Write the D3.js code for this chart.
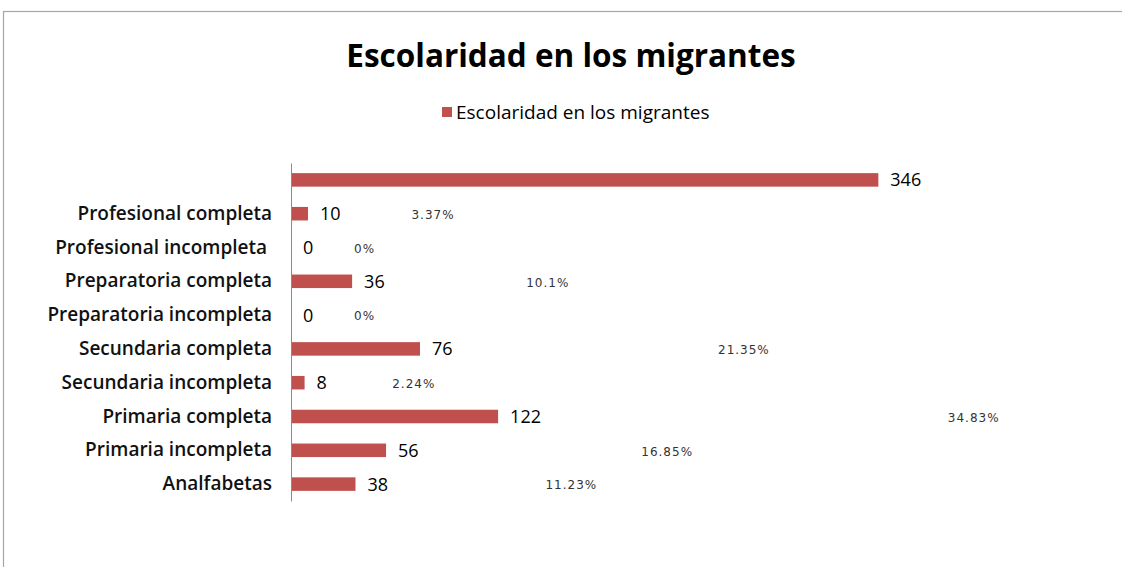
<!DOCTYPE html>
<html>
<head>
<meta charset="utf-8">
<script src="https://cdn.jsdelivr.net/npm/d3@7"></script>
<style>
  body { margin: 0; background: #fff; }
  text { font-family: "Open Sans", Lato, sans-serif; }
</style>
</head>
<body>
<div id="chart"></div>
<script>
// data
var categories = ["", "Profesional completa", "Profesional incompleta ", "Preparatoria completa",
  "Preparatoria incompleta", "Secundaria completa", "Secundaria incompleta",
  "Primaria completa", "Primaria incompleta", "Analfabetas"];
var values = [346, 10, 0, 36, 0, 76, 8, 122, 56, 38];
var percents = [null, 3.37, 0, 10.1, 0, 21.35, 2.24, 34.83, 16.85, 11.23];
var title = "Escolaridad en los migrantes";
var seriesName = "Escolaridad en los migrantes";

var width = 1122, height = 567;
var barColor = "#c0504d";

var data = categories.map(function (c, i) {
  return { name: c, value: values[i], pct: percents[i] };
});

var svg = d3
  .select("#chart")
  .append("svg")
  .attr("width", width)
  .attr("height", height);

svg.append("rect").attr("width", width).attr("height", height).attr("fill", "#fff");

// chart area border (runs off the right and bottom edges)
svg
  .append("rect")
  .attr("x", 3.5)
  .attr("y", 11.5)
  .attr("width", 1140)
  .attr("height", 600)
  .attr("fill", "none")
  .attr("stroke", "#a6a6a6")
  .attr("stroke-width", 1.2);

// title
svg
  .append("text")
  .attr("x", 571)
  .attr("y", 67)
  .attr("text-anchor", "middle")
  .attr("font-size", 31.5)
  .attr("font-weight", "bold")
  .attr("fill", "#000")
  .text(title);

// legend
svg
  .append("rect")
  .attr("x", 442)
  .attr("y", 107)
  .attr("width", 10)
  .attr("height", 10)
  .attr("fill", barColor);
svg
  .append("text")
  .attr("x", 456)
  .attr("y", 119)
  .attr("font-size", 19)
  .attr("fill", "#000")
  .text(seriesName);

// scales
var axisX = 291;
var y = d3
  .scaleBand()
  .domain(categories)
  .range([163, 501])
  .paddingInner(0.6)
  .paddingOuter(0.3);

var x = d3.scaleLinear().domain([0, 400]).range([axisX, 970]);

// secondary (hidden) scale that places the percent labels
var xPct = d3.scaleLinear().domain([0, 40]).range([axisX + 63, axisX + 745]);

// bars
svg
  .selectAll(".bar")
  .data(data)
  .enter()
  .append("rect")
  .attr("class", "bar")
  .attr("x", x(0))
  .attr("y", (d) => y(d.name))
  .attr("width", (d) => x(d.value) - x(0))
  .attr("height", y.bandwidth())
  .attr("fill", barColor);

// category axis
var yAxis = svg
  .append("g")
  .attr("transform", "translate(" + axisX + ",0)")
  .call(d3.axisLeft(y).tickSize(0).tickPadding(19));
yAxis.select(".domain").attr("stroke", "#8c8c8c");
yAxis
  .selectAll("text")
  .attr("font-size", 19)
  .attr("font-weight", 600)
  .attr("fill", "#111")
  .style("white-space", "pre")
  .style("font-family", "'Open Sans', Lato, sans-serif");

// value labels
svg
  .selectAll(".val")
  .data(data)
  .enter()
  .append("text")
  .attr("class", "val")
  .attr("x", (d) => x(d.value) + 12)
  .attr("y", (d) => y(d.name) + y.bandwidth() / 2)
  .attr("dy", "0.36em")
  .attr("font-size", 18)
  .attr("fill", "#000")
  .text((d) => d.value);

// percent labels
svg
  .selectAll(".pct")
  .data(data.filter((d) => d.pct !== null))
  .enter()
  .append("text")
  .attr("class", "pct")
  .attr("x", (d) => xPct(d.pct))
  .attr("y", (d) => y(d.name) + y.bandwidth() / 2 + 1)
  .attr("dy", "0.35em")
  .attr("font-size", 12)
  .attr("letter-spacing", 1)
  .style("font-family", "'DejaVu Sans', sans-serif")
  .attr("fill", "#333")
  .text((d) => d.pct + "%");
</script>
</body>
</html>
